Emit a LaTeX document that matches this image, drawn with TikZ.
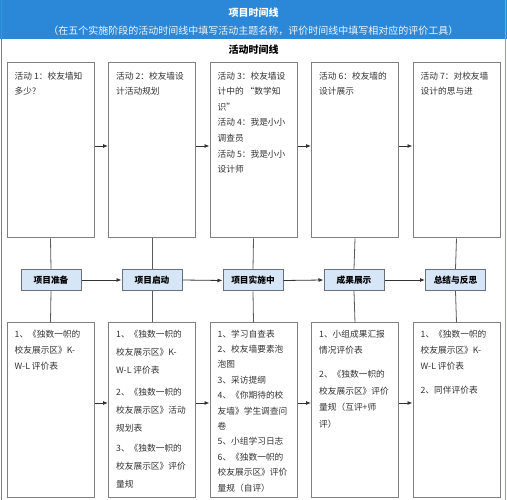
\documentclass[tikz,border=0pt]{standalone}
\usepackage{fontspec}
\setmainfont{Noto Sans CJK SC}
\usetikzlibrary{arrows.meta}
\definecolor{hdr}{HTML}{2B88D8}
\definecolor{boxline}{HTML}{808080}
\definecolor{stagefill}{HTML}{D6E6F7}
\definecolor{stageline}{HTML}{66737F}
\definecolor{txtc}{HTML}{333333}
\definecolor{frameR}{HTML}{8FA88F}
\tikzset{
  tbox/.style={draw=boxline, line width=1pt, fill=white, minimum width=87pt, minimum height=175pt, inner sep=0pt},
  bbox/.style={draw=boxline, line width=1pt, fill=white, minimum width=87pt, minimum height=174pt, inner sep=0pt},
  stage/.style={draw=stageline, line width=1pt, fill=stagefill, minimum width=60pt, minimum height=21pt, inner sep=0pt, font=\fontsize{8.7}{10}\selectfont\bfseries, text=black},
  txt/.style={anchor=north west, inner sep=0pt, align=left, text=txtc},
  conn/.style={draw=black!65, line width=0.8pt},
  arr/.style={draw=black!80, line width=0.8pt, -{Latex[length=5pt,width=4pt]}},
}
\begin{document}
\begin{tikzpicture}[x=1pt,y=-1pt]
\useasboundingbox (0,0) rectangle (507,500);
% header
\fill[hdr] (0,0) rectangle (507,39);
\node[text=white, font=\fontsize{10}{12}\selectfont\bfseries] (title) at (253.5,12.5) {项目时间线};
\node[text=white!92!hdr, font=\fontsize{10}{12}\selectfont] (sub) at (253.5,31) {（在五个实施阶段的活动时间线中填写活动主题名称，评价时间线中填写相对应的评价工具）};
\node[text=black, font=\fontsize{10}{12}\selectfont\bfseries] (act) at (253.5,50) {活动时间线};
% frame
\draw[boxline, line width=1pt] (1.5,0) -- (1.5,500);
\draw[frameR, line width=1pt] (505.5,0) -- (505.5,500);
% top boxes
\node[tbox] (t1) at (50.5,150.5) {};
\node[tbox] (t2) at (152,150.5) {};
\node[tbox] (t3) at (253.5,150.5) {};
\node[tbox] (t4) at (355,150.5) {};
\node[tbox] (t5) at (456.5,150.5) {};
% stage boxes
\node[stage] (s1) at (51,280) {项目准备};
\node[stage] (s2) at (152,280) {项目启动};
\node[stage] (s3) at (253,280.5) {项目实施中};
\node[stage] (s4) at (354,280) {成果展示};
\node[stage] (s5) at (455.5,280) {总结与反思};
% bottom boxes
\node[bbox] (b1) at (50.5,410) {};
\node[bbox] (b2) at (152,410) {};
\node[bbox] (b3) at (253.5,410) {};
\node[bbox] (b4) at (355,410) {};
\node[bbox] (b5) at (456.5,410) {};
% vertical connectors
\foreach \i in {1,...,5}{
  \draw[conn] (t\i.south) -- (s\i.north);
  \draw[conn] (s\i.south) -- (b\i.north);
}
% horizontal arrows
\foreach \i/\j in {1/2,2/3,3/4,4/5}{
  \draw[arr] ([yshift=4.5pt]t\i.east) -- ([yshift=4.5pt]t\j.west);
  \draw[arr] (s\i.east) -- (s\j.west);
  \draw[arr] ([yshift=7pt]b\i.east) -- ([yshift=7pt]b\j.west);
}
% top texts
\tikzset{tt/.style={txt, font=\fontsize{8.7}{15.6}\selectfont}}
\node[tt] (t1x) at ([xshift=8pt,yshift=-9pt]t1.north west) {活动 1：校友墙知\\多少?};
\node[tt] (t2x) at ([xshift=8pt,yshift=-9pt]t2.north west) {活动 2：校友墙设\\计活动规划};
\node[tt] (t3x) at ([xshift=8pt,yshift=-9pt]t3.north west) {活动 3：校友墙设\\计中的 “数学知\\识”\\活动 4：我是小小\\调查员\\活动 5：我是小小\\设计师};
\node[tt] (t4x) at ([xshift=8pt,yshift=-9pt]t4.north west) {活动 6：校友墙的\\设计展示};
\node[tt] (t5x) at ([xshift=8pt,yshift=-9pt]t5.north west) {活动 7：对校友墙\\设计的思与进};
% bottom texts
\node[txt, font=\fontsize{8.7}{16.2}\selectfont] (b1x) at ([xshift=8pt,yshift=-7pt]b1.north west) {1、《独数一帜的\\校友展示区》K-\\W-L 评价表};
\node[txt, font=\fontsize{8.7}{18}\selectfont] (b2x) at ([xshift=8pt,yshift=-7pt]b2.north west) {1、《独数一帜的\\校友展示区》K-\\W-L 评价表\\[4pt]2、《独数一帜的\\校友展示区》活动\\规划表\\[2pt]3、《独数一帜的\\校友展示区》评价\\量规};
\node[txt, font=\fontsize{8.7}{15.4}\selectfont] (b3x) at ([xshift=8pt,yshift=-7pt]b3.north west) {1、学习自查表\\2、校友墙要素泡\\泡图\\3、采访提纲\\4、《你期待的校\\友墙》学生调查问\\卷\\5、小组学习日志\\6、《独数一帜的\\校友展示区》评价\\量规（自评）};
\node[txt, font=\fontsize{8.7}{16.7}\selectfont] (b4x) at ([xshift=8pt,yshift=-7pt]b4.north west) {1、小组成果汇报\\情况评价表\\[7pt]2、《独数一帜的\\校友展示区》评价\\量规（互评+师\\评）};
\node[txt, font=\fontsize{8.7}{16.3}\selectfont] (b5x) at ([xshift=8pt,yshift=-7pt]b5.north west) {1、《独数一帜的\\校友展示区》K-\\W-L 评价表\\[8pt]2、同伴评价表};
\end{tikzpicture}
\end{document}
